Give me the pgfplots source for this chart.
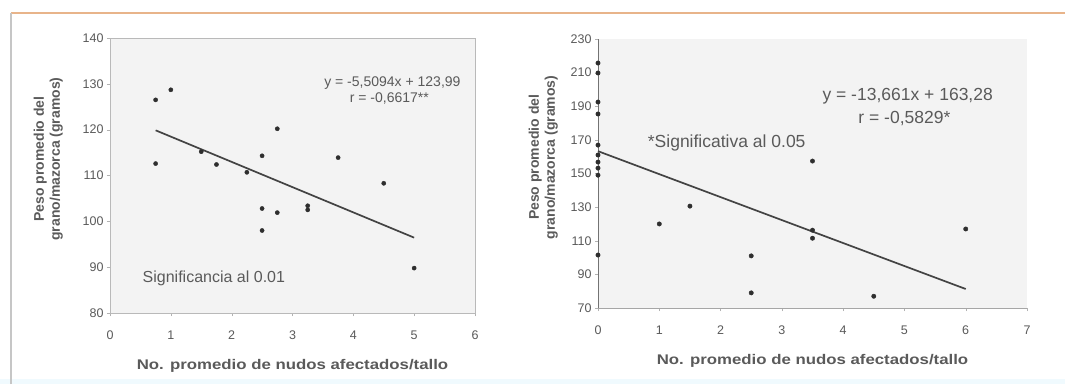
\documentclass[border=0pt]{standalone}
\usepackage{pgfplots}
\pgfplotsset{compat=1.18}
\usepackage{fontspec}
\setmainfont{Liberation Sans}
\definecolor{txt}{HTML}{5A5A5A}
\definecolor{mk}{HTML}{2E2E2E}
\definecolor{frametan}{HTML}{E8B48A}
\definecolor{plotbg}{HTML}{F3F3F3}
\begin{document}
\begin{tikzpicture}
\useasboundingbox (0pt,0pt) rectangle (1065pt,384pt);
\fill[white] (0pt,0pt) rectangle (1065pt,384pt);
\fill[cyan!6] (0pt,0pt) rectangle (1065pt,5pt);
\draw[frametan,line width=1.8pt] (11pt,371pt) -- (1065pt,371pt);
\draw[gray!45,line width=1.5pt] (11pt,0pt) -- (11pt,371pt);
\pgfplotsset{
  myax/.style={
    scale only axis,
    anchor=south west,
    axis background/.style={fill=plotbg},
    axis line style={gray!55},
    tick style={gray!60},
    tick align=outside,
    major tick length=3pt,
    ytick pos=left, xtick pos=bottom,
    tick label style={font=\fontsize{12.5}{14}\selectfont, text=txt},
    /pgf/number format/assume math mode=true,
    /pgf/number format/use comma,
    xticklabel style={yshift=-11pt},
    label style={font=\bfseries\fontsize{14}{16}\selectfont, text=txt},
    ylabel style={align=center},
    clip=false,
  }
}
% ---------- left chart ----------
\begin{axis}[myax,
  at={(110pt,71pt)}, width=365pt, height=275pt,
  xmin=0, xmax=6, ymin=80, ymax=140,
  xtick={0,...,6}, ytick={80,90,...,140},
  xlabel={\scalebox{1.2}[1]{No. promedio de nudos afectados/tallo}},
  xlabel style={yshift=-13pt},
  ylabel={Peso promedio del\\grano/mazorca (gramos)},
  ylabel style={at={(ticklabel cs:0.56)}, yshift=13pt},
]
\addplot[only marks, mark=*, mark size=2.1pt, mk] coordinates {
 (0.75,126.5) (1.0,128.7) (0.75,112.6) (1.5,115.2) (1.75,112.4)
 (2.25,110.7) (2.5,114.3) (2.75,120.2) (2.5,102.8) (2.75,101.9)
 (2.5,98.0) (3.25,103.4) (3.25,102.5) (3.75,113.9) (4.5,108.3) (5.0,89.8)
};
\addplot[mk!90, line width=1.7pt] coordinates {(0.75,119.86) (5.0,96.44)};
\node[anchor=east, text=txt, font=\fontsize{14}{16}\selectfont] at (axis cs:5.82,130.2) {y = -5,5094x + 123,99};
\node[anchor=east, text=txt, font=\fontsize{14}{16}\selectfont] at (axis cs:5.3,126.9) {r = -0,6617**};
\node[anchor=west, text=txt, font=\fontsize{16}{18}\selectfont] at (axis cs:0.48,87.6) {Significancia al 0.01};
\end{axis}
% ---------- right chart ----------
\begin{axis}[myax,
  at={(598pt,76pt)}, width=429pt, height=269pt,
  xmin=0, xmax=7, ymin=70, ymax=230,
  xtick={0,...,7}, ytick={70,90,...,230},
  axis x line*=bottom, axis y line*=left,
  x axis line style={gray!70}, y axis line style={gray!90!black, line width=0.8pt},
  xlabel={\scalebox{1.2}[1]{No. promedio de nudos afectados/tallo}},
  xlabel style={yshift=-13pt},
  ylabel={Peso promedio del\\grano/mazorca (gramos)},
  ylabel style={at={(ticklabel cs:0.56)}, yshift=6pt},
]
\addplot[only marks, mark=*, mark size=2.2pt, mk] coordinates {
 (0,215.7) (0,209.8) (0,192.5) (0,185.4) (0,166.9) (0,161) (0,156.8) (0,153.2) (0,149) (0,101.5)
 (1.0,120) (1.5,130.6) (2.5,101) (2.5,79) (3.5,157.4) (3.5,116.3) (3.5,111.5) (4.5,77) (6.0,117)
};
\addplot[mk!90, line width=1.7pt] coordinates {(0,163.28) (6,81.31)};
\node[anchor=east, text=txt, font=\fontsize{17.5}{20}\selectfont] at (axis cs:6.5,196) {y = -13,661x + 163,28};
\node[text=txt, font=\fontsize{17.5}{20}\selectfont] at (axis cs:5.0,183) {r = -0,5829*};
\node[text=txt, font=\fontsize{17.5}{20}\selectfont] at (axis cs:2.1,168) {*Significativa al 0.05};
\end{axis}
\end{tikzpicture}
\end{document}
